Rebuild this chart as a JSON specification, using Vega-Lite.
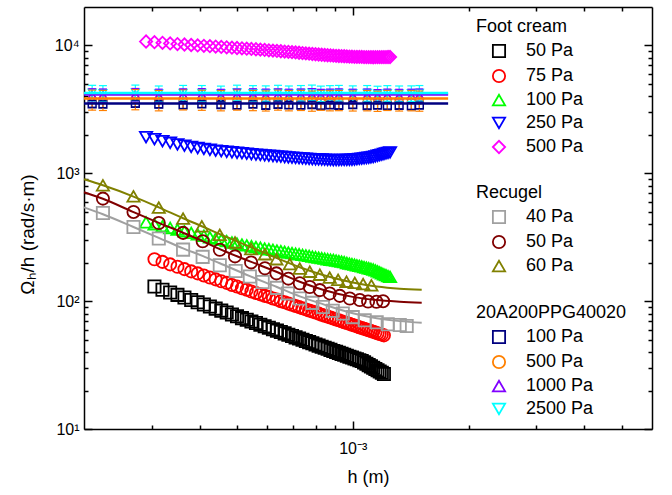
{
  "$schema": "https://vega.github.io/schema/vega-lite/v6.json",
  "width": 568,
  "height": 422,
  "autosize": {"type": "none"},
  "padding": {"left": 84, "top": 7, "right": 20, "bottom": 66},
  "background": "white",
  "config": {
    "view": {"stroke": null},
    "font": "Liberation Sans",
    "axis": {
      "grid": false, "domainColor": "black", "domainWidth": 1.5,
      "tickColor": "black", "tickWidth": 1.5,
      "labelColor": "black", "labelFont": "Liberation Sans", "labelFontSize": 16,
      "titleFont": "Liberation Sans", "titleFontSize": 18, "titleFontWeight": "normal", "titleColor": "black",
      "labelOverlap": false, "labelFlush": false
    },
    "legend": {
      "titleFont": "Liberation Sans", "titleFontSize": 18, "titleFontWeight": "normal", "titleColor": "black",
      "labelFont": "Liberation Sans", "labelFontSize": 18, "labelColor": "black",
      "symbolSize": 150, "symbolStrokeWidth": 1.8, "symbolOffset": 14, "labelOffset": 18,
      "rowPadding": 5, "titlePadding": 6, "padding": 0, "offset": 0
    }
  },
  "datasets": {
    "foot": [
      {"p":"50 Pa","h":3.05e-4,"v":130},{"p":"50 Pa","h":3.2e-4,"v":123},{"p":"50 Pa","h":3.35e-4,"v":117},{"p":"50 Pa","h":3.5e-4,"v":112},{"p":"50 Pa","h":3.65e-4,"v":107},{"p":"50 Pa","h":3.8e-4,"v":102},{"p":"50 Pa","h":3.95e-4,"v":98.2},{"p":"50 Pa","h":4.1e-4,"v":94.3},{"p":"50 Pa","h":4.25e-4,"v":90.7},{"p":"50 Pa","h":4.4e-4,"v":87.4},{"p":"50 Pa","h":4.55e-4,"v":84.3},{"p":"50 Pa","h":4.7e-4,"v":81.4},{"p":"50 Pa","h":4.85e-4,"v":78.7},{"p":"50 Pa","h":5e-4,"v":76.1},{"p":"50 Pa","h":5.15e-4,"v":73.7},{"p":"50 Pa","h":5.3e-4,"v":71.5},{"p":"50 Pa","h":5.45e-4,"v":69.4},{"p":"50 Pa","h":5.6e-4,"v":67.4},{"p":"50 Pa","h":5.75e-4,"v":65.5},{"p":"50 Pa","h":5.9e-4,"v":63.7},{"p":"50 Pa","h":6.05e-4,"v":62},{"p":"50 Pa","h":6.2e-4,"v":60.4},{"p":"50 Pa","h":6.35e-4,"v":58.8},{"p":"50 Pa","h":6.5e-4,"v":57.4},{"p":"50 Pa","h":6.65e-4,"v":56},{"p":"50 Pa","h":6.8e-4,"v":54.6},{"p":"50 Pa","h":6.95e-4,"v":53.4},{"p":"50 Pa","h":7.1e-4,"v":52.1},{"p":"50 Pa","h":7.25e-4,"v":51},{"p":"50 Pa","h":7.4e-4,"v":49.9},{"p":"50 Pa","h":7.55e-4,"v":48.8},{"p":"50 Pa","h":7.7e-4,"v":47.8},{"p":"50 Pa","h":7.85e-4,"v":46.8},{"p":"50 Pa","h":8e-4,"v":45.8},{"p":"50 Pa","h":8.15e-4,"v":44.9},{"p":"50 Pa","h":8.3e-4,"v":44},{"p":"50 Pa","h":8.45e-4,"v":43.2},{"p":"50 Pa","h":8.6e-4,"v":42.4},{"p":"50 Pa","h":8.75e-4,"v":41.6},{"p":"50 Pa","h":8.9e-4,"v":40.8},{"p":"50 Pa","h":9.05e-4,"v":40.1},{"p":"50 Pa","h":9.2e-4,"v":39.4},{"p":"50 Pa","h":9.35e-4,"v":38.7},{"p":"50 Pa","h":9.5e-4,"v":38.1},{"p":"50 Pa","h":9.65e-4,"v":37.4},{"p":"50 Pa","h":9.8e-4,"v":36.8},{"p":"50 Pa","h":9.95e-4,"v":36.2},{"p":"50 Pa","h":1.01e-3,"v":35.6},{"p":"50 Pa","h":1.025e-3,"v":35.1},{"p":"50 Pa","h":1.04e-3,"v":34.5},{"p":"50 Pa","h":1.055e-3,"v":34},{"p":"50 Pa","h":1.07e-3,"v":33.2},{"p":"50 Pa","h":1.085e-3,"v":32.4},{"p":"50 Pa","h":1.1e-3,"v":31.6},{"p":"50 Pa","h":1.115e-3,"v":30.9},{"p":"50 Pa","h":1.13e-3,"v":30.1},{"p":"50 Pa","h":1.145e-3,"v":29.5},{"p":"50 Pa","h":1.16e-3,"v":28.8},{"p":"50 Pa","h":1.175e-3,"v":28.2},{"p":"50 Pa","h":1.19e-3,"v":27.5},{"p":"50 Pa","h":1.205e-3,"v":26.9},
      {"p":"75 Pa","h":3.05e-4,"v":213},{"p":"75 Pa","h":3.2e-4,"v":203},{"p":"75 Pa","h":3.35e-4,"v":194},{"p":"75 Pa","h":3.5e-4,"v":186},{"p":"75 Pa","h":3.65e-4,"v":178},{"p":"75 Pa","h":3.8e-4,"v":171},{"p":"75 Pa","h":3.95e-4,"v":165},{"p":"75 Pa","h":4.1e-4,"v":159},{"p":"75 Pa","h":4.25e-4,"v":153},{"p":"75 Pa","h":4.4e-4,"v":148},{"p":"75 Pa","h":4.55e-4,"v":143},{"p":"75 Pa","h":4.7e-4,"v":139},{"p":"75 Pa","h":4.85e-4,"v":134},{"p":"75 Pa","h":5e-4,"v":130},{"p":"75 Pa","h":5.15e-4,"v":126},{"p":"75 Pa","h":5.3e-4,"v":123},{"p":"75 Pa","h":5.45e-4,"v":119},{"p":"75 Pa","h":5.6e-4,"v":116},{"p":"75 Pa","h":5.75e-4,"v":113},{"p":"75 Pa","h":5.9e-4,"v":110},{"p":"75 Pa","h":6.05e-4,"v":108},{"p":"75 Pa","h":6.2e-4,"v":105},{"p":"75 Pa","h":6.35e-4,"v":103},{"p":"75 Pa","h":6.5e-4,"v":100},{"p":"75 Pa","h":6.65e-4,"v":97.9},{"p":"75 Pa","h":6.8e-4,"v":95.7},{"p":"75 Pa","h":6.95e-4,"v":93.7},{"p":"75 Pa","h":7.1e-4,"v":91.7},{"p":"75 Pa","h":7.25e-4,"v":89.8},{"p":"75 Pa","h":7.4e-4,"v":88},{"p":"75 Pa","h":7.55e-4,"v":86.2},{"p":"75 Pa","h":7.7e-4,"v":84.5},{"p":"75 Pa","h":7.85e-4,"v":82.9},{"p":"75 Pa","h":8e-4,"v":81.4},{"p":"75 Pa","h":8.15e-4,"v":79.9},{"p":"75 Pa","h":8.3e-4,"v":78.4},{"p":"75 Pa","h":8.45e-4,"v":77},{"p":"75 Pa","h":8.6e-4,"v":75.7},{"p":"75 Pa","h":8.75e-4,"v":74.4},{"p":"75 Pa","h":8.9e-4,"v":73.1},{"p":"75 Pa","h":9.05e-4,"v":71.9},{"p":"75 Pa","h":9.2e-4,"v":70.8},{"p":"75 Pa","h":9.35e-4,"v":69.6},{"p":"75 Pa","h":9.5e-4,"v":68.5},{"p":"75 Pa","h":9.65e-4,"v":67.5},{"p":"75 Pa","h":9.8e-4,"v":66.4},{"p":"75 Pa","h":9.95e-4,"v":65.4},{"p":"75 Pa","h":1.01e-3,"v":64.5},{"p":"75 Pa","h":1.025e-3,"v":63.5},{"p":"75 Pa","h":1.04e-3,"v":62.6},{"p":"75 Pa","h":1.055e-3,"v":61.7},{"p":"75 Pa","h":1.07e-3,"v":60.8},{"p":"75 Pa","h":1.085e-3,"v":60},{"p":"75 Pa","h":1.1e-3,"v":59.2},{"p":"75 Pa","h":1.115e-3,"v":58.4},{"p":"75 Pa","h":1.13e-3,"v":57.6},{"p":"75 Pa","h":1.145e-3,"v":56.9},{"p":"75 Pa","h":1.16e-3,"v":56.1},{"p":"75 Pa","h":1.175e-3,"v":55.4},{"p":"75 Pa","h":1.19e-3,"v":54.7},{"p":"75 Pa","h":1.205e-3,"v":54},
      {"p":"100 Pa","h":2.9e-4,"v":414},{"p":"100 Pa","h":3.05e-4,"v":400},{"p":"100 Pa","h":3.2e-4,"v":386},{"p":"100 Pa","h":3.35e-4,"v":374},{"p":"100 Pa","h":3.5e-4,"v":363},{"p":"100 Pa","h":3.65e-4,"v":352},{"p":"100 Pa","h":3.8e-4,"v":342},{"p":"100 Pa","h":3.95e-4,"v":333},{"p":"100 Pa","h":4.1e-4,"v":325},{"p":"100 Pa","h":4.25e-4,"v":316},{"p":"100 Pa","h":4.4e-4,"v":309},{"p":"100 Pa","h":4.55e-4,"v":302},{"p":"100 Pa","h":4.7e-4,"v":295},{"p":"100 Pa","h":4.85e-4,"v":288},{"p":"100 Pa","h":5e-4,"v":282},{"p":"100 Pa","h":5.15e-4,"v":277},{"p":"100 Pa","h":5.3e-4,"v":273},{"p":"100 Pa","h":5.45e-4,"v":269},{"p":"100 Pa","h":5.6e-4,"v":265},{"p":"100 Pa","h":5.75e-4,"v":262},{"p":"100 Pa","h":5.9e-4,"v":258},{"p":"100 Pa","h":6.05e-4,"v":255},{"p":"100 Pa","h":6.2e-4,"v":252},{"p":"100 Pa","h":6.35e-4,"v":249},{"p":"100 Pa","h":6.5e-4,"v":246},{"p":"100 Pa","h":6.65e-4,"v":243},{"p":"100 Pa","h":6.8e-4,"v":240},{"p":"100 Pa","h":6.95e-4,"v":238},{"p":"100 Pa","h":7.1e-4,"v":235},{"p":"100 Pa","h":7.25e-4,"v":233},{"p":"100 Pa","h":7.4e-4,"v":230},{"p":"100 Pa","h":7.55e-4,"v":228},{"p":"100 Pa","h":7.7e-4,"v":226},{"p":"100 Pa","h":7.85e-4,"v":223},{"p":"100 Pa","h":8e-4,"v":221},{"p":"100 Pa","h":8.15e-4,"v":219},{"p":"100 Pa","h":8.3e-4,"v":217},{"p":"100 Pa","h":8.45e-4,"v":215},{"p":"100 Pa","h":8.6e-4,"v":213},{"p":"100 Pa","h":8.75e-4,"v":211},{"p":"100 Pa","h":8.9e-4,"v":210},{"p":"100 Pa","h":9.05e-4,"v":208},{"p":"100 Pa","h":9.2e-4,"v":206},{"p":"100 Pa","h":9.35e-4,"v":204},{"p":"100 Pa","h":9.5e-4,"v":202},{"p":"100 Pa","h":9.65e-4,"v":199},{"p":"100 Pa","h":9.8e-4,"v":197},{"p":"100 Pa","h":9.95e-4,"v":195},{"p":"100 Pa","h":1.01e-3,"v":193},{"p":"100 Pa","h":1.025e-3,"v":191},{"p":"100 Pa","h":1.04e-3,"v":189},{"p":"100 Pa","h":1.055e-3,"v":187},{"p":"100 Pa","h":1.07e-3,"v":185},{"p":"100 Pa","h":1.085e-3,"v":183},{"p":"100 Pa","h":1.1e-3,"v":181},{"p":"100 Pa","h":1.115e-3,"v":179},{"p":"100 Pa","h":1.13e-3,"v":177},{"p":"100 Pa","h":1.145e-3,"v":174},{"p":"100 Pa","h":1.16e-3,"v":171},{"p":"100 Pa","h":1.175e-3,"v":168},{"p":"100 Pa","h":1.19e-3,"v":165},{"p":"100 Pa","h":1.205e-3,"v":162},{"p":"100 Pa","h":1.22e-3,"v":160},{"p":"100 Pa","h":1.235e-3,"v":157},{"p":"100 Pa","h":1.25e-3,"v":155},
      {"p":"250 Pa","h":2.9e-4,"v":1919},{"p":"250 Pa","h":3.05e-4,"v":1848},{"p":"250 Pa","h":3.2e-4,"v":1785},{"p":"250 Pa","h":3.35e-4,"v":1732},{"p":"250 Pa","h":3.5e-4,"v":1682},{"p":"250 Pa","h":3.65e-4,"v":1643},{"p":"250 Pa","h":3.8e-4,"v":1609},{"p":"250 Pa","h":3.95e-4,"v":1577},{"p":"250 Pa","h":4.1e-4,"v":1551},{"p":"250 Pa","h":4.25e-4,"v":1528},{"p":"250 Pa","h":4.4e-4,"v":1505},{"p":"250 Pa","h":4.55e-4,"v":1488},{"p":"250 Pa","h":4.7e-4,"v":1474},{"p":"250 Pa","h":4.85e-4,"v":1460},{"p":"250 Pa","h":5e-4,"v":1447},{"p":"250 Pa","h":5.15e-4,"v":1435},{"p":"250 Pa","h":5.3e-4,"v":1423},{"p":"250 Pa","h":5.45e-4,"v":1412},{"p":"250 Pa","h":5.6e-4,"v":1401},{"p":"250 Pa","h":5.75e-4,"v":1392},{"p":"250 Pa","h":5.9e-4,"v":1382},{"p":"250 Pa","h":6.05e-4,"v":1373},{"p":"250 Pa","h":6.2e-4,"v":1365},{"p":"250 Pa","h":6.35e-4,"v":1356},{"p":"250 Pa","h":6.5e-4,"v":1348},{"p":"250 Pa","h":6.65e-4,"v":1340},{"p":"250 Pa","h":6.8e-4,"v":1332},{"p":"250 Pa","h":6.95e-4,"v":1325},{"p":"250 Pa","h":7.1e-4,"v":1318},{"p":"250 Pa","h":7.25e-4,"v":1312},{"p":"250 Pa","h":7.4e-4,"v":1307},{"p":"250 Pa","h":7.55e-4,"v":1302},{"p":"250 Pa","h":7.7e-4,"v":1297},{"p":"250 Pa","h":7.85e-4,"v":1291},{"p":"250 Pa","h":8e-4,"v":1287},{"p":"250 Pa","h":8.15e-4,"v":1284},{"p":"250 Pa","h":8.3e-4,"v":1281},{"p":"250 Pa","h":8.45e-4,"v":1277},{"p":"250 Pa","h":8.6e-4,"v":1274},{"p":"250 Pa","h":8.75e-4,"v":1271},{"p":"250 Pa","h":8.9e-4,"v":1268},{"p":"250 Pa","h":9.05e-4,"v":1269},{"p":"250 Pa","h":9.2e-4,"v":1270},{"p":"250 Pa","h":9.35e-4,"v":1271},{"p":"250 Pa","h":9.5e-4,"v":1273},{"p":"250 Pa","h":9.65e-4,"v":1274},{"p":"250 Pa","h":9.8e-4,"v":1275},{"p":"250 Pa","h":9.95e-4,"v":1276},{"p":"250 Pa","h":1.01e-3,"v":1281},{"p":"250 Pa","h":1.025e-3,"v":1288},{"p":"250 Pa","h":1.04e-3,"v":1296},{"p":"250 Pa","h":1.055e-3,"v":1303},{"p":"250 Pa","h":1.07e-3,"v":1310},{"p":"250 Pa","h":1.085e-3,"v":1317},{"p":"250 Pa","h":1.1e-3,"v":1323},{"p":"250 Pa","h":1.115e-3,"v":1330},{"p":"250 Pa","h":1.13e-3,"v":1341},{"p":"250 Pa","h":1.145e-3,"v":1356},{"p":"250 Pa","h":1.16e-3,"v":1371},{"p":"250 Pa","h":1.175e-3,"v":1385},{"p":"250 Pa","h":1.19e-3,"v":1400},{"p":"250 Pa","h":1.205e-3,"v":1415},{"p":"250 Pa","h":1.22e-3,"v":1430},{"p":"250 Pa","h":1.235e-3,"v":1444},{"p":"250 Pa","h":1.25e-3,"v":1459},
      {"p":"500 Pa","h":2.9e-4,"v":10740},{"p":"500 Pa","h":3.05e-4,"v":10610},{"p":"500 Pa","h":3.2e-4,"v":10490},{"p":"500 Pa","h":3.35e-4,"v":10375},{"p":"500 Pa","h":3.5e-4,"v":10265},{"p":"500 Pa","h":3.65e-4,"v":10175},{"p":"500 Pa","h":3.8e-4,"v":10090},{"p":"500 Pa","h":3.95e-4,"v":10015},{"p":"500 Pa","h":4.1e-4,"v":9940},{"p":"500 Pa","h":4.25e-4,"v":9870},{"p":"500 Pa","h":4.4e-4,"v":9800},{"p":"500 Pa","h":4.55e-4,"v":9735},{"p":"500 Pa","h":4.7e-4,"v":9672},{"p":"500 Pa","h":4.85e-4,"v":9612},{"p":"500 Pa","h":5e-4,"v":9555},{"p":"500 Pa","h":5.15e-4,"v":9497},{"p":"500 Pa","h":5.3e-4,"v":9443},{"p":"500 Pa","h":5.45e-4,"v":9391},{"p":"500 Pa","h":5.6e-4,"v":9341},{"p":"500 Pa","h":5.75e-4,"v":9283},{"p":"500 Pa","h":5.9e-4,"v":9226},{"p":"500 Pa","h":6.05e-4,"v":9171},{"p":"500 Pa","h":6.2e-4,"v":9116},{"p":"500 Pa","h":6.35e-4,"v":9064},{"p":"500 Pa","h":6.5e-4,"v":9014},{"p":"500 Pa","h":6.65e-4,"v":8964},{"p":"500 Pa","h":6.8e-4,"v":8917},{"p":"500 Pa","h":6.95e-4,"v":8870},{"p":"500 Pa","h":7.1e-4,"v":8823},{"p":"500 Pa","h":7.25e-4,"v":8773},{"p":"500 Pa","h":7.4e-4,"v":8722},{"p":"500 Pa","h":7.55e-4,"v":8674},{"p":"500 Pa","h":7.7e-4,"v":8626},{"p":"500 Pa","h":7.85e-4,"v":8579},{"p":"500 Pa","h":8e-4,"v":8537},{"p":"500 Pa","h":8.15e-4,"v":8498},{"p":"500 Pa","h":8.3e-4,"v":8461},{"p":"500 Pa","h":8.45e-4,"v":8424},{"p":"500 Pa","h":8.6e-4,"v":8389},{"p":"500 Pa","h":8.75e-4,"v":8354},{"p":"500 Pa","h":8.9e-4,"v":8320},{"p":"500 Pa","h":9.05e-4,"v":8297},{"p":"500 Pa","h":9.2e-4,"v":8276},{"p":"500 Pa","h":9.35e-4,"v":8255},{"p":"500 Pa","h":9.5e-4,"v":8234},{"p":"500 Pa","h":9.65e-4,"v":8213},{"p":"500 Pa","h":9.8e-4,"v":8192},{"p":"500 Pa","h":9.95e-4,"v":8173},{"p":"500 Pa","h":1.01e-3,"v":8160},{"p":"500 Pa","h":1.025e-3,"v":8149},{"p":"500 Pa","h":1.04e-3,"v":8139},{"p":"500 Pa","h":1.055e-3,"v":8130},{"p":"500 Pa","h":1.07e-3,"v":8120},{"p":"500 Pa","h":1.085e-3,"v":8113},{"p":"500 Pa","h":1.1e-3,"v":8103},{"p":"500 Pa","h":1.115e-3,"v":8094},{"p":"500 Pa","h":1.13e-3,"v":8092},{"p":"500 Pa","h":1.145e-3,"v":8097},{"p":"500 Pa","h":1.16e-3,"v":8101},{"p":"500 Pa","h":1.175e-3,"v":8107},{"p":"500 Pa","h":1.19e-3,"v":8111},{"p":"500 Pa","h":1.205e-3,"v":8115},{"p":"500 Pa","h":1.22e-3,"v":8120},{"p":"500 Pa","h":1.235e-3,"v":8124},{"p":"500 Pa","h":1.25e-3,"v":8128}
    ],
    "recu": [
      {"p":"40 Pa","h":2.24e-4,"v":490},{"p":"40 Pa","h":2.69e-4,"v":380},{"p":"40 Pa","h":3.13e-4,"v":309},{"p":"40 Pa","h":3.62e-4,"v":253},{"p":"40 Pa","h":4.07e-4,"v":222},{"p":"40 Pa","h":4.51e-4,"v":191},{"p":"40 Pa","h":4.96e-4,"v":172},{"p":"40 Pa","h":5.4e-4,"v":156},{"p":"40 Pa","h":5.83e-4,"v":141},{"p":"40 Pa","h":6.35e-4,"v":127},{"p":"40 Pa","h":6.78e-4,"v":115},{"p":"40 Pa","h":7.28e-4,"v":105},{"p":"40 Pa","h":7.85e-4,"v":97},{"p":"40 Pa","h":8.36e-4,"v":90},{"p":"40 Pa","h":8.87e-4,"v":84},{"p":"40 Pa","h":9.42e-4,"v":80},{"p":"40 Pa","h":1e-3,"v":75},{"p":"40 Pa","h":1.074e-3,"v":71},{"p":"40 Pa","h":1.154e-3,"v":68.5},{"p":"40 Pa","h":1.233e-3,"v":66},{"p":"40 Pa","h":1.325e-3,"v":65},{"p":"40 Pa","h":1.381e-3,"v":64},
      {"p":"50 Pa","h":2.24e-4,"v":634},{"p":"50 Pa","h":2.69e-4,"v":499},{"p":"50 Pa","h":3.13e-4,"v":409},{"p":"50 Pa","h":3.62e-4,"v":342},{"p":"50 Pa","h":4.07e-4,"v":294},{"p":"50 Pa","h":4.51e-4,"v":252},{"p":"50 Pa","h":4.94e-4,"v":224},{"p":"50 Pa","h":5.44e-4,"v":201},{"p":"50 Pa","h":5.91e-4,"v":181},{"p":"50 Pa","h":6.33e-4,"v":165},{"p":"50 Pa","h":6.8e-4,"v":150},{"p":"50 Pa","h":7.28e-4,"v":138},{"p":"50 Pa","h":7.73e-4,"v":129},{"p":"50 Pa","h":8.21e-4,"v":122},{"p":"50 Pa","h":8.71e-4,"v":115},{"p":"50 Pa","h":9.25e-4,"v":110},{"p":"50 Pa","h":9.82e-4,"v":105},{"p":"50 Pa","h":1.043e-3,"v":102},{"p":"50 Pa","h":1.096e-3,"v":99.5},{"p":"50 Pa","h":1.152e-3,"v":99},{"p":"50 Pa","h":1.199e-3,"v":100},
      {"p":"60 Pa","h":2.24e-4,"v":806},{"p":"60 Pa","h":2.69e-4,"v":661},{"p":"60 Pa","h":3.13e-4,"v":540},{"p":"60 Pa","h":3.62e-4,"v":443},{"p":"60 Pa","h":4.05e-4,"v":385},{"p":"60 Pa","h":4.51e-4,"v":330},{"p":"60 Pa","h":4.94e-4,"v":288},{"p":"60 Pa","h":5.44e-4,"v":256},{"p":"60 Pa","h":5.91e-4,"v":233},{"p":"60 Pa","h":6.33e-4,"v":213},{"p":"60 Pa","h":6.86e-4,"v":195},{"p":"60 Pa","h":7.28e-4,"v":180},{"p":"60 Pa","h":7.73e-4,"v":170},{"p":"60 Pa","h":8.21e-4,"v":161},{"p":"60 Pa","h":8.71e-4,"v":153},{"p":"60 Pa","h":9.16e-4,"v":147},{"p":"60 Pa","h":9.63e-4,"v":142},{"p":"60 Pa","h":1.012e-3,"v":139},{"p":"60 Pa","h":1.064e-3,"v":136},{"p":"60 Pa","h":1.118e-3,"v":133}
    ],
    "recuFit": [
      {"p":"40 Pa","h":2e-4,"v":542},{"p":"40 Pa","h":2.24e-4,"v":478},{"p":"40 Pa","h":2.68e-4,"v":382},{"p":"40 Pa","h":3.13e-4,"v":313},{"p":"40 Pa","h":3.62e-4,"v":259},{"p":"40 Pa","h":4.08e-4,"v":225},{"p":"40 Pa","h":4.51e-4,"v":198},{"p":"40 Pa","h":5.4e-4,"v":157},{"p":"40 Pa","h":6.35e-4,"v":129},{"p":"40 Pa","h":7.28e-4,"v":109},{"p":"40 Pa","h":8.36e-4,"v":94.8},{"p":"40 Pa","h":1e-3,"v":80.5},{"p":"40 Pa","h":1.154e-3,"v":73.6},{"p":"40 Pa","h":1.325e-3,"v":69.8},{"p":"40 Pa","h":1.511e-3,"v":67.9},
      {"p":"50 Pa","h":2e-4,"v":711},{"p":"50 Pa","h":2.24e-4,"v":632},{"p":"50 Pa","h":2.68e-4,"v":500},{"p":"50 Pa","h":3.13e-4,"v":410},{"p":"50 Pa","h":3.62e-4,"v":343},{"p":"50 Pa","h":4.08e-4,"v":294},{"p":"50 Pa","h":4.51e-4,"v":255},{"p":"50 Pa","h":5.4e-4,"v":205},{"p":"50 Pa","h":6.35e-4,"v":169},{"p":"50 Pa","h":7.28e-4,"v":142},{"p":"50 Pa","h":8.36e-4,"v":123},{"p":"50 Pa","h":1e-3,"v":108},{"p":"50 Pa","h":1.154e-3,"v":102},{"p":"50 Pa","h":1.325e-3,"v":99.1},{"p":"50 Pa","h":1.511e-3,"v":97.3},
      {"p":"60 Pa","h":2e-4,"v":898},{"p":"60 Pa","h":2.24e-4,"v":806},{"p":"60 Pa","h":2.68e-4,"v":661},{"p":"60 Pa","h":3.13e-4,"v":542},{"p":"60 Pa","h":3.62e-4,"v":445},{"p":"60 Pa","h":4.08e-4,"v":382},{"p":"60 Pa","h":4.51e-4,"v":334},{"p":"60 Pa","h":5.4e-4,"v":267},{"p":"60 Pa","h":6.35e-4,"v":217},{"p":"60 Pa","h":7.28e-4,"v":184},{"p":"60 Pa","h":8.36e-4,"v":160},{"p":"60 Pa","h":1e-3,"v":140},{"p":"60 Pa","h":1.154e-3,"v":130},{"p":"60 Pa","h":1.325e-3,"v":125},{"p":"60 Pa","h":1.511e-3,"v":123}
    ],
    "ppg": [
      {"p":"100 Pa","h":2.1e-4,"v":3500,"lo":3290,"hi":3710},{"p":"100 Pa","h":2.24e-4,"v":3480,"lo":3270,"hi":3690},{"p":"100 Pa","h":2.72e-4,"v":3520,"lo":3310,"hi":3730},{"p":"100 Pa","h":3.13e-4,"v":3470,"lo":3260,"hi":3680},{"p":"100 Pa","h":3.62e-4,"v":3430,"lo":3220,"hi":3640},{"p":"100 Pa","h":4.05e-4,"v":3490,"lo":3280,"hi":3700},{"p":"100 Pa","h":4.54e-4,"v":3450,"lo":3240,"hi":3660},{"p":"100 Pa","h":5e-4,"v":3420,"lo":3210,"hi":3630},{"p":"100 Pa","h":5.5e-4,"v":3480,"lo":3270,"hi":3690},{"p":"100 Pa","h":5.94e-4,"v":3400,"lo":3200,"hi":3600},{"p":"100 Pa","h":6.39e-4,"v":3460,"lo":3250,"hi":3670},{"p":"100 Pa","h":6.82e-4,"v":3430,"lo":3220,"hi":3640},{"p":"100 Pa","h":7.33e-4,"v":3410,"lo":3210,"hi":3610},{"p":"100 Pa","h":7.83e-4,"v":3450,"lo":3240,"hi":3660},{"p":"100 Pa","h":8.26e-4,"v":3380,"lo":3180,"hi":3580},{"p":"100 Pa","h":8.72e-4,"v":3430,"lo":3220,"hi":3640},{"p":"100 Pa","h":9.2e-4,"v":3400,"lo":3200,"hi":3600},{"p":"100 Pa","h":1e-3,"v":3440,"lo":3230,"hi":3650},{"p":"100 Pa","h":1.09e-3,"v":3390,"lo":3190,"hi":3590},{"p":"100 Pa","h":1.16e-3,"v":3420,"lo":3210,"hi":3630},{"p":"100 Pa","h":1.23e-3,"v":3380,"lo":3180,"hi":3580},{"p":"100 Pa","h":1.32e-3,"v":3400,"lo":3200,"hi":3600},{"p":"100 Pa","h":1.42e-3,"v":3370,"lo":3170,"hi":3570},{"p":"100 Pa","h":1.49e-3,"v":3410,"lo":3210,"hi":3610},
      {"p":"500 Pa","h":2.1e-4,"v":3800,"lo":3120,"hi":4480},{"p":"500 Pa","h":2.24e-4,"v":3780,"lo":3100,"hi":4460},{"p":"500 Pa","h":2.72e-4,"v":3830,"lo":3140,"hi":4520},{"p":"500 Pa","h":3.13e-4,"v":3760,"lo":3080,"hi":4440},{"p":"500 Pa","h":3.62e-4,"v":3820,"lo":3130,"hi":4510},{"p":"500 Pa","h":4.05e-4,"v":3790,"lo":3110,"hi":4470},{"p":"500 Pa","h":4.54e-4,"v":3750,"lo":3080,"hi":4430},{"p":"500 Pa","h":5e-4,"v":3810,"lo":3120,"hi":4500},{"p":"500 Pa","h":5.5e-4,"v":3770,"lo":3090,"hi":4450},{"p":"500 Pa","h":5.94e-4,"v":3740,"lo":3070,"hi":4410},{"p":"500 Pa","h":6.39e-4,"v":3800,"lo":3120,"hi":4480},{"p":"500 Pa","h":6.82e-4,"v":3760,"lo":3080,"hi":4440},{"p":"500 Pa","h":7.33e-4,"v":3780,"lo":3100,"hi":4460},{"p":"500 Pa","h":7.83e-4,"v":3730,"lo":3060,"hi":4400},{"p":"500 Pa","h":8.26e-4,"v":3790,"lo":3110,"hi":4470},{"p":"500 Pa","h":8.72e-4,"v":3750,"lo":3080,"hi":4430},{"p":"500 Pa","h":9.2e-4,"v":3770,"lo":3090,"hi":4450},{"p":"500 Pa","h":1e-3,"v":3740,"lo":3070,"hi":4410},{"p":"500 Pa","h":1.09e-3,"v":3760,"lo":3080,"hi":4440},{"p":"500 Pa","h":1.16e-3,"v":3720,"lo":3050,"hi":4390},{"p":"500 Pa","h":1.23e-3,"v":3780,"lo":3100,"hi":4460},{"p":"500 Pa","h":1.32e-3,"v":3740,"lo":3070,"hi":4410},{"p":"500 Pa","h":1.42e-3,"v":3750,"lo":3080,"hi":4430},{"p":"500 Pa","h":1.49e-3,"v":3730,"lo":3060,"hi":4400},
      {"p":"1000 Pa","h":2.1e-4,"v":4100,"lo":3610,"hi":4590},{"p":"1000 Pa","h":2.24e-4,"v":4080,"lo":3590,"hi":4570},{"p":"1000 Pa","h":2.72e-4,"v":4120,"lo":3630,"hi":4610},{"p":"1000 Pa","h":3.13e-4,"v":4060,"lo":3570,"hi":4550},{"p":"1000 Pa","h":3.62e-4,"v":4090,"lo":3600,"hi":4580},{"p":"1000 Pa","h":4.05e-4,"v":4110,"lo":3620,"hi":4600},{"p":"1000 Pa","h":4.54e-4,"v":4050,"lo":3560,"hi":4540},{"p":"1000 Pa","h":5e-4,"v":4080,"lo":3590,"hi":4570},{"p":"1000 Pa","h":5.5e-4,"v":4100,"lo":3610,"hi":4590},{"p":"1000 Pa","h":5.94e-4,"v":4070,"lo":3580,"hi":4560},{"p":"1000 Pa","h":6.39e-4,"v":4090,"lo":3600,"hi":4580},{"p":"1000 Pa","h":6.82e-4,"v":4060,"lo":3570,"hi":4550},{"p":"1000 Pa","h":7.33e-4,"v":4080,"lo":3590,"hi":4570},{"p":"1000 Pa","h":7.83e-4,"v":4110,"lo":3620,"hi":4600},{"p":"1000 Pa","h":8.26e-4,"v":4050,"lo":3560,"hi":4540},{"p":"1000 Pa","h":8.72e-4,"v":4070,"lo":3580,"hi":4560},{"p":"1000 Pa","h":9.2e-4,"v":4090,"lo":3600,"hi":4580},{"p":"1000 Pa","h":1e-3,"v":4060,"lo":3570,"hi":4550},{"p":"1000 Pa","h":1.09e-3,"v":4080,"lo":3590,"hi":4570},{"p":"1000 Pa","h":1.16e-3,"v":4040,"lo":3560,"hi":4520},{"p":"1000 Pa","h":1.23e-3,"v":4070,"lo":3580,"hi":4560},{"p":"1000 Pa","h":1.32e-3,"v":4050,"lo":3560,"hi":4540},{"p":"1000 Pa","h":1.42e-3,"v":4060,"lo":3570,"hi":4550},{"p":"1000 Pa","h":1.49e-3,"v":4080,"lo":3590,"hi":4570},
      {"p":"2500 Pa","h":2.1e-4,"v":4280,"lo":3680,"hi":4880},{"p":"2500 Pa","h":2.24e-4,"v":4250,"lo":3660,"hi":4850},{"p":"2500 Pa","h":2.72e-4,"v":4300,"lo":3700,"hi":4900},{"p":"2500 Pa","h":3.13e-4,"v":4230,"lo":3640,"hi":4820},{"p":"2500 Pa","h":3.62e-4,"v":4270,"lo":3670,"hi":4870},{"p":"2500 Pa","h":4.05e-4,"v":4260,"lo":3660,"hi":4860},{"p":"2500 Pa","h":4.54e-4,"v":4220,"lo":3630,"hi":4810},{"p":"2500 Pa","h":5e-4,"v":4290,"lo":3690,"hi":4890},{"p":"2500 Pa","h":5.5e-4,"v":4250,"lo":3660,"hi":4850},{"p":"2500 Pa","h":5.94e-4,"v":4240,"lo":3650,"hi":4830},{"p":"2500 Pa","h":6.39e-4,"v":4280,"lo":3680,"hi":4880},{"p":"2500 Pa","h":6.82e-4,"v":4230,"lo":3640,"hi":4820},{"p":"2500 Pa","h":7.33e-4,"v":4260,"lo":3660,"hi":4860},{"p":"2500 Pa","h":7.83e-4,"v":4300,"lo":3700,"hi":4900},{"p":"2500 Pa","h":8.26e-4,"v":4220,"lo":3630,"hi":4810},{"p":"2500 Pa","h":8.72e-4,"v":4250,"lo":3660,"hi":4850},{"p":"2500 Pa","h":9.2e-4,"v":4270,"lo":3670,"hi":4870},{"p":"2500 Pa","h":1e-3,"v":4240,"lo":3650,"hi":4830},{"p":"2500 Pa","h":1.09e-3,"v":4260,"lo":3660,"hi":4860},{"p":"2500 Pa","h":1.16e-3,"v":4210,"lo":3620,"hi":4800},{"p":"2500 Pa","h":1.23e-3,"v":4250,"lo":3660,"hi":4850},{"p":"2500 Pa","h":1.32e-3,"v":4230,"lo":3640,"hi":4820},{"p":"2500 Pa","h":1.42e-3,"v":4240,"lo":3650,"hi":4830},{"p":"2500 Pa","h":1.49e-3,"v":4260,"lo":3660,"hi":4860}
    ],
    "ppgFit": [
      {"p":"100 Pa","h":2e-4,"v":3520},{"p":"100 Pa","h":1.77e-3,"v":3520},
      {"p":"500 Pa","h":2e-4,"v":3855},{"p":"500 Pa","h":1.77e-3,"v":3855},
      {"p":"1000 Pa","h":2e-4,"v":4140},{"p":"1000 Pa","h":1.77e-3,"v":4140},
      {"p":"2500 Pa","h":2e-4,"v":4256},{"p":"2500 Pa","h":1.77e-3,"v":4256}
    ]
  },
  "layer": [
    {
      "data": {"name": "foot"},
      "mark": {"type": "point", "filled": false, "strokeWidth": 1.8, "size": 150, "opacity": 1},
      "encoding": {
        "x": {
          "field": "h", "type": "quantitative",
          "scale": {"type": "log", "domain": [0.0002, 0.006], "nice": false},
          "axis": {
            "orient": "bottom", "title": "h (m)", "titlePadding": 8,
            "values": [0.0003, 0.0004, 0.0005, 0.0006, 0.0007, 0.0008, 0.0009, 0.001, 0.002, 0.003, 0.004, 0.005],
            "labelExpr": "datum.value == 0.001 ? '10⁻³' : ''",
            "tickSize": {"condition": {"test": "datum.value == 0.001", "value": -8}, "value": -4},
            "labelPadding": 19
          }
        },
        "y": {
          "field": "v", "type": "quantitative",
          "scale": {"type": "log", "domain": [10, 20000], "nice": false},
          "axis": {
            "orient": "left", "title": "Ωₕ/h (rad/s·m)", "titlePadding": 17, "titleY": 227, "titleFontSize": 19,
            "values": [10, 20, 30, 40, 50, 60, 70, 80, 90, 100, 200, 300, 400, 500, 600, 700, 800, 900, 1000, 2000, 3000, 4000, 5000, 6000, 7000, 8000, 9000, 10000],
            "labelExpr": "datum.value == 10 ? '10¹' : datum.value == 100 ? '10²' : datum.value == 1000 ? '10³' : datum.value == 10000 ? '10⁴' : ''",
            "tickSize": {"condition": {"test": "indexof([10, 100, 1000, 10000], datum.value) >= 0", "value": -8}, "value": -4},
            "labelPadding": 13
          }
        },
        "color": {
          "field": "p", "type": "nominal",
          "scale": {"domain": ["50 Pa", "75 Pa", "100 Pa", "250 Pa", "500 Pa"], "range": ["#000000", "#FF0000", "#00FF00", "#0000FF", "#FF00FF"]},
          "legend": {"title": "Foot cream", "orient": "none", "legendX": 392, "legendY": 11}
        },
        "shape": {
          "field": "p", "type": "nominal",
          "scale": {"domain": ["50 Pa", "75 Pa", "100 Pa", "250 Pa", "500 Pa"], "range": ["square", "circle", "triangle-up", "triangle-down", "diamond"]},
          "legend": {"title": "Foot cream", "orient": "none", "legendX": 392, "legendY": 11}
        }
      }
    },
    {
      "data": {"name": "foot"},
      "mark": {"type": "point", "opacity": 0},
      "encoding": {
        "x": {
          "field": "h", "type": "quantitative",
          "scale": {"type": "log", "domain": [0.0002, 0.006], "nice": false},
          "axis": {
            "orient": "top", "title": null, "labels": false,
            "values": [0.0003, 0.0004, 0.0005, 0.0006, 0.0007, 0.0008, 0.0009, 0.001, 0.002, 0.003, 0.004, 0.005],
            "tickSize": {"condition": {"test": "datum.value == 0.001", "value": -8}, "value": -4}
          }
        },
        "y": {
          "field": "v", "type": "quantitative",
          "scale": {"type": "log", "domain": [10, 20000], "nice": false},
          "axis": {
            "orient": "right", "title": null, "labels": false,
            "values": [10, 20, 30, 40, 50, 60, 70, 80, 90, 100, 200, 300, 400, 500, 600, 700, 800, 900, 1000, 2000, 3000, 4000, 5000, 6000, 7000, 8000, 9000, 10000],
            "tickSize": {"condition": {"test": "indexof([10, 100, 1000, 10000], datum.value) >= 0", "value": -8}, "value": -4}
          }
        }
      }
    },
    {
      "layer": [
        {
          "data": {"name": "recuFit"},
          "mark": {"type": "line", "strokeWidth": 2, "interpolate": "monotone"},
          "encoding": {
            "x": {"field": "h", "type": "quantitative", "scale": {"type": "log", "domain": [0.0002, 0.006], "nice": false}, "axis": null},
            "y": {"field": "v", "type": "quantitative", "scale": {"type": "log", "domain": [10, 20000], "nice": false}, "axis": null},
            "color": {
              "field": "p", "type": "nominal",
              "scale": {"domain": ["40 Pa", "50 Pa", "60 Pa"], "range": ["#A0A0A0", "#800000", "#808000"]},
              "legend": {"title": "Recugel", "orient": "none", "legendX": 392, "legendY": 177}
            }
          }
        },
        {
          "data": {"name": "recu"},
          "mark": {"type": "point", "filled": false, "strokeWidth": 1.8, "size": 150, "opacity": 1},
          "encoding": {
            "x": {"field": "h", "type": "quantitative", "scale": {"type": "log", "domain": [0.0002, 0.006], "nice": false}, "axis": null},
            "y": {"field": "v", "type": "quantitative", "scale": {"type": "log", "domain": [10, 20000], "nice": false}, "axis": null},
            "color": {
              "field": "p", "type": "nominal",
              "scale": {"domain": ["40 Pa", "50 Pa", "60 Pa"], "range": ["#A0A0A0", "#800000", "#808000"]},
              "legend": {"title": "Recugel", "orient": "none", "legendX": 392, "legendY": 177}
            },
            "shape": {
              "field": "p", "type": "nominal",
              "scale": {"domain": ["40 Pa", "50 Pa", "60 Pa"], "range": ["square", "circle", "triangle-up"]},
              "legend": {"title": "Recugel", "orient": "none", "legendX": 392, "legendY": 177}
            }
          }
        }
      ]
    },
    {
      "layer": [
        {
          "data": {"name": "ppg"},
          "mark": {"type": "point", "filled": false, "strokeWidth": 1.5, "size": 60, "opacity": 1},
          "encoding": {
            "x": {"field": "h", "type": "quantitative", "scale": {"type": "log", "domain": [0.0002, 0.006], "nice": false}, "axis": null},
            "y": {"field": "v", "type": "quantitative", "scale": {"type": "log", "domain": [10, 20000], "nice": false}, "axis": null},
            "color": {
              "field": "p", "type": "nominal",
              "scale": {"domain": ["100 Pa", "500 Pa", "1000 Pa", "2500 Pa"], "range": ["#000080", "#FF8000", "#8000FF", "#00FFFF"]},
              "legend": {"title": "20A200PPG40020", "orient": "none", "legendX": 392, "legendY": 297}
            },
            "shape": {
              "field": "p", "type": "nominal",
              "scale": {"domain": ["100 Pa", "500 Pa", "1000 Pa", "2500 Pa"], "range": ["square", "circle", "triangle-up", "triangle-down"]},
              "legend": {"title": "20A200PPG40020", "orient": "none", "legendX": 392, "legendY": 297}
            }
          }
        },
        {
          "data": {"name": "ppg"},
          "mark": {"type": "rule", "strokeWidth": 1.2},
          "encoding": {
            "x": {"field": "h", "type": "quantitative", "scale": {"type": "log", "domain": [0.0002, 0.006], "nice": false}, "axis": null},
            "y": {"field": "lo", "type": "quantitative", "scale": {"type": "log", "domain": [10, 20000], "nice": false}, "axis": null},
            "y2": {"field": "hi"},
            "color": {
              "field": "p", "type": "nominal",
              "scale": {"domain": ["100 Pa", "500 Pa", "1000 Pa", "2500 Pa"], "range": ["#000080", "#FF8000", "#8000FF", "#00FFFF"]},
              "legend": {"title": "20A200PPG40020", "orient": "none", "legendX": 392, "legendY": 297}
            }
          }
        },
        {
          "data": {"name": "ppg"},
          "mark": {"type": "point", "shape": "stroke", "filled": false, "size": 64, "strokeWidth": 1.2, "opacity": 1},
          "encoding": {
            "x": {"field": "h", "type": "quantitative", "scale": {"type": "log", "domain": [0.0002, 0.006], "nice": false}, "axis": null},
            "y": {"field": "lo", "type": "quantitative", "scale": {"type": "log", "domain": [10, 20000], "nice": false}, "axis": null},
            "color": {
              "field": "p", "type": "nominal",
              "scale": {"domain": ["100 Pa", "500 Pa", "1000 Pa", "2500 Pa"], "range": ["#000080", "#FF8000", "#8000FF", "#00FFFF"]},
              "legend": {"title": "20A200PPG40020", "orient": "none", "legendX": 392, "legendY": 297}
            }
          }
        },
        {
          "data": {"name": "ppg"},
          "mark": {"type": "point", "shape": "stroke", "filled": false, "size": 64, "strokeWidth": 1.2, "opacity": 1},
          "encoding": {
            "x": {"field": "h", "type": "quantitative", "scale": {"type": "log", "domain": [0.0002, 0.006], "nice": false}, "axis": null},
            "y": {"field": "hi", "type": "quantitative", "scale": {"type": "log", "domain": [10, 20000], "nice": false}, "axis": null},
            "color": {
              "field": "p", "type": "nominal",
              "scale": {"domain": ["100 Pa", "500 Pa", "1000 Pa", "2500 Pa"], "range": ["#000080", "#FF8000", "#8000FF", "#00FFFF"]},
              "legend": {"title": "20A200PPG40020", "orient": "none", "legendX": 392, "legendY": 297}
            }
          }
        },
        {
          "data": {"name": "ppgFit"},
          "mark": {"type": "line", "strokeWidth": 2.5},
          "encoding": {
            "x": {"field": "h", "type": "quantitative", "scale": {"type": "log", "domain": [0.0002, 0.006], "nice": false}, "axis": null},
            "y": {"field": "v", "type": "quantitative", "scale": {"type": "log", "domain": [10, 20000], "nice": false}, "axis": null},
            "color": {
              "field": "p", "type": "nominal",
              "scale": {"domain": ["100 Pa", "500 Pa", "1000 Pa", "2500 Pa"], "range": ["#000080", "#FF8000", "#8000FF", "#00FFFF"]},
              "legend": {"title": "20A200PPG40020", "orient": "none", "legendX": 392, "legendY": 297}
            }
          }
        }
      ]
    }
  ],
  "resolve": {
    "scale": {"color": "independent", "shape": "independent"},
    "axis": {"x": "independent", "y": "independent"}
  }
}
